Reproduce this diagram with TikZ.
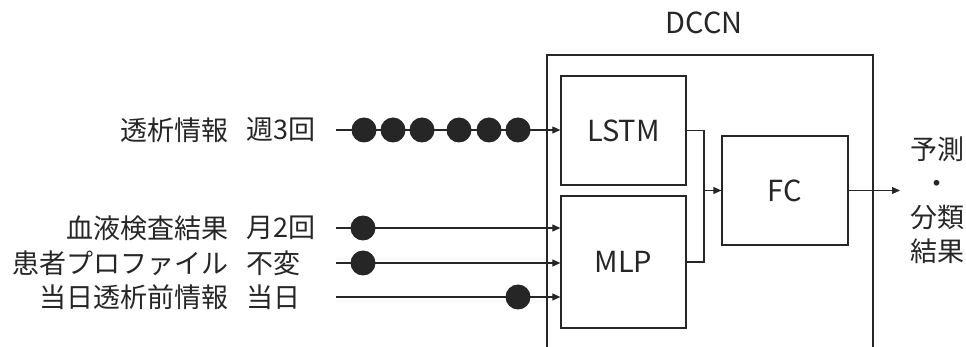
\documentclass[tikz,border=0pt]{standalone}
\usepackage{fontspec}
\setmainfont{Noto Sans CJK JP}
\usetikzlibrary{arrows.meta,positioning}
\definecolor{tinta}{HTML}{262626}
\tikzstyle{block} = [draw=tinta, line width=1.3pt, minimum width=125pt, inner sep=0pt, text=tinta, font=\fontsize{29}{34}\selectfont]
\tikzstyle{frame} = [draw=tinta, line width=1.3pt]
\tikzstyle{wire} = [draw=tinta, line width=1.1pt]
\tikzstyle{conn} = [wire, -{Triangle[length=8pt,width=7pt]}]
\tikzstyle{dot} = [circle, fill=tinta, minimum size=25pt, inner sep=0pt]
\tikzstyle{label} = [text=tinta, inner sep=0pt, font=\fontsize{27}{34}\selectfont]

\begin{document}
\begin{tikzpicture}[x=1pt, y=-1pt]
	\useasboundingbox (0,0) rectangle (966,347);
	\node[label, font=\fontsize{29}{34}\selectfont] (dccn) at (704,23) {DCCN};
	\draw[frame] (547,350) |- (873,55) -- (873,350);
	\node[block, minimum height=109pt] (lstm) at (623.5,130.5) {LSTM};
	\node[block, minimum height=132pt] (mlp) at (623.5,262) {MLP};
	\node[block, minimum width=126pt, minimum height=109pt] (fc) at (785,190.5) {FC};

	\node[label, anchor=east] (n1) at (229,130) {透析情報};
	\node[label, anchor=west] (f1) at (246,130) {週3回};
	\node[label, anchor=east] (n2) at (229,228) {血液検査結果};
	\node[label, anchor=west] (f2) at (246,228) {月2回};
	\node[label, anchor=east] (n3) at (229,263) {患者プロファイル};
	\node[label, anchor=west] (f3) at (246,263) {不変};
	\node[label, anchor=east] (n4) at (229,297) {当日透析前情報};
	\node[label, anchor=west] (f4) at (246,297) {当日};

	\coordinate (s1) at (336,130);
	\coordinate (s2) at (336,228);
	\coordinate (s3) at (336,263);
	\coordinate (s4) at (336,297);
	\draw[conn] (s1) -- (s1 -| lstm.west);
	\draw[conn] (s2) -- (s2 -| mlp.west);
	\draw[conn] (s3) -- (s3 -| mlp.west);
	\draw[conn] (s4) -- (s4 -| mlp.west);
	\foreach \x [count=\i] in {364,393,422,459,489,518}
		\node[dot] (d\i) at (\x,130) {};
	\node[dot] (d7) at (363,228) {};
	\node[dot] (d8) at (363,263) {};
	\node[dot] (d9) at (518,297) {};

	\coordinate (join) at (704,190.5);
	\draw[wire] (lstm.east) -| (join);
	\draw[wire] (mlp.east) -| (join);
	\draw[conn] (join) -- (fc.west);
	\coordinate (out) at (900,190.5);
	\draw[conn] (fc.east) -- (out);
	\node[label, align=center] (result) at (937,200) {予測\\・\\分類\\結果};
\end{tikzpicture}
\end{document}
